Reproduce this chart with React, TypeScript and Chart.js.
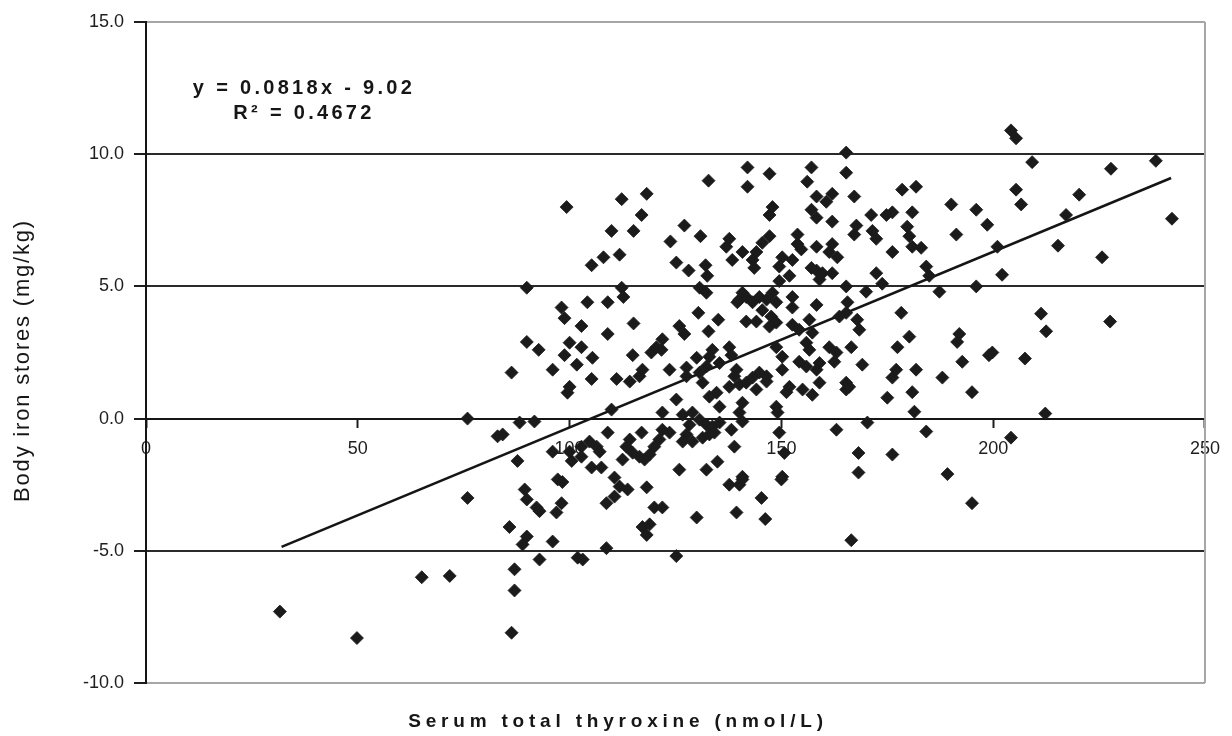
import React, { useEffect, useRef } from 'react';
import { Chart, registerables } from 'chart.js';

Chart.register(...registerables);

// Serum total thyroxine (nmol/L)
const thyroxine = [
  132.8, 99.3, 112.3, 118.2, 117.0, 109.9, 115.1, 127.1, 130.9, 123.8,
  137.7, 137.0, 138.4, 111.8, 108.0, 105.2, 125.2, 128.1, 132.1, 132.5,
  89.9, 112.3, 112.7, 130.7, 132.3, 139.6, 104.2, 109.0, 98.1, 98.8,
  130.4, 135.1, 102.8, 115.1, 125.9, 127.1, 132.8, 109.0, 89.9, 92.7,
  100.0, 102.8, 98.8, 101.7, 105.4, 114.9, 119.3, 121.9, 121.7, 86.3,
  96.0, 123.6, 127.6, 105.2, 111.1, 116.5, 117.2, 100.0,
  149.5, 140.1, 141.7, 143.2, 144.8, 146.5, 145.5, 147.9, 148.8, 147.6, 148.8, 152.6, 152.6, 158.3,
  141.7, 144.1, 147.2, 152.6, 154.2, 156.6, 157.3, 155.9, 156.6,
  120.5,
  137.7, 138.2, 133.7, 133.0, 130.0, 132.3, 135.4, 148.8, 150.2, 154.2, 155.9, 158.3,
  127.6, 130.7, 139.4, 138.9, 144.8, 143.2, 150.2,
  114.2, 125.2, 131.4, 134.7, 135.4, 133.0, 137.7, 140.1, 141.7, 144.1, 146.5, 140.8, 140.1, 148.8, 149.1, 151.2, 155.0, 157.3,
  121.9, 126.7, 129.0, 130.7, 128.3, 132.3, 133.7, 135.4, 134.2, 127.6, 126.7, 129.0, 131.4, 133.0, 138.2, 138.9, 149.5,
  121.9, 121.2, 120.0, 118.9, 117.7, 116.5, 114.9, 113.4, 117.0, 114.2, 123.6, 125.9, 132.3, 134.9, 140.8, 150.2, 112.5,
  99.5, 109.9, 88.2, 91.7, 84.2, 87.7, 96.0, 100.0, 102.8, 104.7, 106.4, 107.1, 100.5, 102.8, 109.0,
  105.2, 107.5, 97.2, 98.3, 110.6, 111.8, 113.7, 118.2, 89.4, 89.9, 92.2, 92.9, 98.1, 96.9, 108.7, 110.6, 120.0, 121.9,
  137.7, 140.1, 130.0, 85.8, 89.9, 88.9, 96.0, 117.2, 118.9, 118.2, 92.9, 101.9, 103.1, 108.7, 125.2, 87.0, 87.0, 86.3, 139.4,
  75.9, 83.0, 75.9, 65.1, 71.7, 31.6, 49.8, 140.8,
  150.7, 165.3, 163.0, 170.3, 175.0, 180.9, 181.4, 184.2, 195.0, 168.2, 176.2, 168.2, 189.2, 140.8, 150.0, 145.3, 146.2, 166.5, 195.0, 212.3, 204.2,
  165.3, 142.0, 147.2, 157.1, 156.1, 165.3, 142.0, 178.5, 181.8, 167.2, 158.3, 162.0, 160.6, 190.1, 196.0, 147.9, 147.2, 157.1, 158.3, 162.0,
  176.2, 174.8, 180.9, 171.2, 167.7, 167.2, 171.5, 172.4, 179.7, 180.2, 180.9, 183.0, 191.3, 176.2,
  147.2, 145.5, 144.1, 143.2, 143.6, 140.8, 153.8, 153.8, 154.7, 152.6, 150.2, 149.5, 151.9, 158.3, 162.0, 161.3, 163.2, 158.3, 159.7, 162.0,
  157.1, 159.0, 172.4, 173.8, 184.2, 184.9, 187.3, 196.0, 165.3, 170.0, 178.3, 140.8,
  165.6, 165.3, 163.7, 167.9, 168.4, 180.2, 192.0, 191.5, 177.4, 161.3, 163.0, 162.5, 159.0, 166.5, 169.1, 177.1, 176.2, 181.8, 188.0, 192.7,
  146.5, 165.3, 166.0, 151.9, 159.0,
  204.2, 205.4, 209.2, 227.8, 238.4, 205.4, 206.6, 220.3, 217.2, 242.2, 198.6, 201.0, 215.3, 225.7, 202.1, 211.3, 212.5, 227.6, 199.8, 199.0, 207.5,
];

// Body iron stores (mg/kg)
const ironStores = [
  9.0, 8.0, 8.3, 8.5, 7.7, 7.1, 7.1, 7.3, 6.9, 6.7,
  6.8, 6.5, 6.0, 6.2, 6.1, 5.8, 5.9, 5.6, 5.8, 5.4,
  4.95, 4.95, 4.6, 4.95, 4.76, 4.4, 4.4, 4.4, 4.2, 3.8,
  4.0, 3.74, 3.5, 3.6, 3.5, 3.2, 3.3, 3.2, 2.9, 2.6,
  2.87, 2.7, 2.4, 2.04, 2.3, 2.4, 2.5, 3.0, 2.6, 1.74,
  1.85, 1.85, 1.93, 1.5, 1.5, 1.6, 1.85, 1.2,
  5.2, 4.5, 4.6, 4.4, 4.6, 4.5, 4.1, 4.76, 4.4, 3.86, 3.63, 4.6, 4.2, 4.3,
  3.67, 3.67, 3.48, 3.55, 3.36, 3.74, 3.25, 2.87, 2.6,
  2.7,
  2.7, 2.4, 2.6, 2.34, 2.3, 1.97, 2.1, 2.7, 2.34, 2.15, 1.97, 1.85,
  1.6, 1.74, 1.85, 1.6, 1.74, 1.55, 1.85,
  1.4, 0.72, 1.36, 0.98, 0.45, 0.83, 1.2, 1.29, 1.36, 1.1, 1.4, 0.6, 0.23, 0.45, 0.23, 1.0, 1.1, 0.9,
  0.23, 0.15, 0.23, -0.04, -0.23, -0.23, -0.3, -0.15, -0.53, -0.6, -0.87, -0.87, -0.72, -0.6, -0.42, -1.06, -0.53,
  -0.42, -0.79, -1.06, -1.36, -1.55, -1.44, -1.29, -1.06, -0.53, -0.79, -0.53, -1.93, -1.93, -1.63, -2.2, -2.2, -1.55,
  0.98, 0.34, -0.15, -0.11, -0.6, -1.6, -1.25, -1.25, -1.06, -0.87, -1.06, -1.25, -1.6, -1.44, -0.53,
  -1.85, -1.85, -2.3, -2.4, -2.23, -2.57, -2.68, -2.6, -2.68, -3.06, -3.36, -3.5, -3.2, -3.55, -3.2, -2.95, -3.36, -3.36,
  -2.5, -2.5, -3.74, -4.1, -4.46, -4.76, -4.65, -4.1, -4.0, -4.4, -5.33, -5.26, -5.33, -4.9, -5.2, -5.7, -6.5, -8.1, -3.55,
  0.0, -0.67, -3.0, -6.0, -5.95, -7.3, -8.3, -0.11,
  -1.3, 1.1, -0.42, -0.15, 0.79, 1.0, 0.26, -0.49, 1.0, -1.3, -1.36, -2.04, -2.1, -2.3, -2.3, -3.0, -3.8, -4.6, -3.2, 0.19, -0.72,
  10.06, 9.5, 9.26, 9.5, 8.96, 9.3, 8.77, 8.66, 8.77, 8.4, 8.4, 8.5, 8.2, 8.1, 7.9, 8.0, 7.7, 7.9, 7.6, 7.45,
  7.8, 7.7, 7.8, 7.7, 7.3, 6.96, 7.1, 6.8, 7.26, 6.9, 6.5, 6.46, 6.96, 6.3,
  6.9, 6.65, 6.3, 6.0, 5.7, 6.3, 6.96, 6.6, 6.4, 6.0, 6.1, 5.75, 5.4, 6.5, 6.6, 6.3, 6.1, 5.6, 5.5, 5.5,
  5.7, 5.26, 5.5, 5.1, 5.75, 5.4, 4.8, 5.0, 5.0, 4.8, 4.0, 4.76,
  4.4, 4.0, 3.86, 3.74, 3.36, 3.1, 3.2, 2.9, 2.7, 2.7, 2.5, 2.15, 2.1, 2.7, 2.04, 1.85, 1.55, 1.85, 1.55, 2.15,
  1.6, 1.36, 1.2, 1.2, 1.36,
  10.9, 10.6, 9.7, 9.45, 9.75, 8.66, 8.1, 8.47, 7.7, 7.56, 7.33, 6.5, 6.54, 6.1, 5.44, 3.97, 3.3, 3.67, 2.5, 2.4, 2.27,
];

// Trend line as drawn on the chart (end points)
const trendX = [32, 242];
const trendY = [-4.85, 9.1];

const equationLines = ['y = 0.0818x - 9.02', 'R\u00B2 = 0.4672'];
const equationAnchor = { x: 37.3, y1: 12.5, y2: 11.55 };

const xTitle = 'Serum total thyroxine (nmol/L)';
const yTitle = 'Body iron stores (mg/kg)';

const FONT = '"Liberation Sans", Arial, Helvetica, sans-serif';

const textPlugin = {
  id: 'textPlugin',
  afterDraw(chart: any) {
    const { ctx, chartArea, scales } = chart;
    ctx.save();
    ctx.strokeStyle = '#a6a6a6';
    ctx.lineWidth = 2;
    ctx.beginPath();
    ctx.moveTo(chartArea.right, chartArea.top);
    ctx.lineTo(chartArea.right, chartArea.bottom);
    ctx.stroke();

    ctx.fillStyle = '#161616';
    ctx.textAlign = 'center';
    ctx.textBaseline = 'middle';

    ctx.font = `bold 20px ${FONT}`;
    (ctx as any).letterSpacing = '3.3px';
    const ex = scales.x.getPixelForValue(equationAnchor.x);
    ctx.fillText(equationLines[0], ex, scales.y.getPixelForValue(equationAnchor.y1));
    ctx.fillText(equationLines[1], ex, scales.y.getPixelForValue(equationAnchor.y2));

    ctx.font = `bold 19px ${FONT}`;
    (ctx as any).letterSpacing = '4.8px';
    ctx.fillText(xTitle, chart.width / 2 + 2, chart.height - 14);

    ctx.font = `22px ${FONT}`;
    (ctx as any).letterSpacing = '1.8px';
    ctx.translate(23, (chartArea.top + chartArea.bottom) / 2 + 8);
    ctx.rotate(-Math.PI / 2);
    ctx.fillText(yTitle, 0, 0);
    ctx.restore();
  },
};

export default function App() {
  const canvasRef = useRef<HTMLCanvasElement | null>(null);

  useEffect(() => {
    if (!canvasRef.current) return;
    const points = thyroxine.map((x, i) => ({ x, y: ironStores[i] }));
    const trend = trendX.map((x, i) => ({ x, y: trendY[i] }));

    const chart = new Chart(canvasRef.current, {
      type: 'scatter',
      data: {
        datasets: [
          {
            label: 'Body iron stores',
            data: points,
            pointStyle: 'rectRot',
            pointRadius: 6.5,
            backgroundColor: '#1b1b1b',
            borderColor: '#1b1b1b',
            borderWidth: 0.8,
          },
          {
            type: 'line',
            label: 'Linear trend',
            data: trend,
            borderColor: '#151515',
            borderWidth: 2.5,
            pointRadius: 0,
            fill: false,
          } as any,
        ],
      },
      options: {
        animation: false,
        responsive: true,
        maintainAspectRatio: false,
        layout: { padding: { left: 12, right: 25, top: 22, bottom: 53 } },
        plugins: {
          legend: { display: false },
          tooltip: { enabled: false },
          title: { display: false },
        },
        scales: {
          x: {
            type: 'linear',
            min: 0,
            max: 250,
            position: { y: 0 } as any,
            ticks: {
              stepSize: 50,
              color: '#1e1e1e',
              font: { family: FONT, size: 18 },
              padding: 12,
              maxRotation: 0,
              autoSkip: false,
            },
            grid: {
              drawOnChartArea: false,
              tickLength: 8,
              tickColor: '#1e1e1e',
              tickWidth: 2,
            },
            border: { color: '#151515', width: 2 },
          },
          y: {
            min: -10,
            max: 15,
            ticks: {
              stepSize: 5,
              color: '#1e1e1e',
              font: { family: FONT, size: 18 },
              padding: 10,
              callback: (v: any) => Number(v).toFixed(1),
            },
            grid: {
              color: (c: any) =>
                c.tick && (c.tick.value === 15 || c.tick.value === -10) ? '#a6a6a6' : '#2a2a2a',
              lineWidth: 2,
              tickLength: 12,
              tickColor: '#1e1e1e',
              tickWidth: 2,
            },
            border: { color: '#151515', width: 2 },
            afterFit: (scale: any) => {
              scale.width = 134;
            },
          },
        },
      },
      plugins: [textPlugin],
    });
    return () => chart.destroy();
  }, []);

  return (
    <div style={{ position: 'fixed', left: 0, top: 0, width: 1232, height: 736, background: '#fff' }}>
      <canvas ref={canvasRef} />
    </div>
  );
}
